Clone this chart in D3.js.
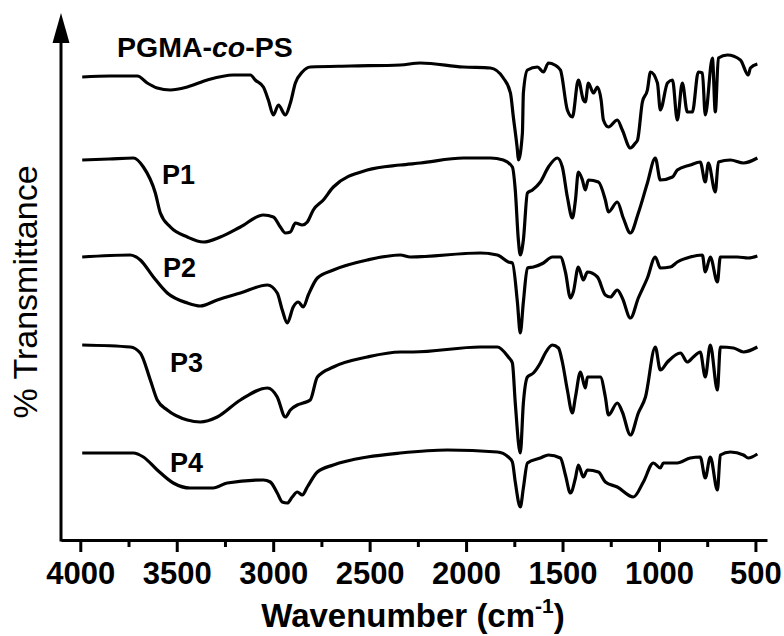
<!DOCTYPE html>
<html>
<head>
<meta charset="utf-8">
<script src="https://cdn.jsdelivr.net/npm/d3@7"></script>
<style>
  body { margin: 0; background: #fff; }
  text { font-family: "Liberation Sans", Arial, sans-serif; }
</style>
</head>
<body>
<div id="plot"></div>
<script>
// Tick values of the wavenumber axis
var majorTicks = [4000, 3500, 3000, 2500, 2000, 1500, 1000, 500];
var minorTicks = [3750, 3250, 2750, 2250, 1750, 1250, 750];

// Spectra, [wavenumber (cm-1), transmittance (a.u., stacked offsets)]
var pgmaCoPS = [[3990,463],[3845,464],[3704,464],[3653,457],[3601,452],[3533,450],[3445,453],[3341,460],[3207,465],[3118,465],[3093,460],[3051,453],[3025,440],[2999,425],[2973,435],[2937,425],[2911,437],[2885,457],[2849,468],[2808,473],[2600,474],[2341,475],[2237,477],[2014,473],[1874,472],[1807,462],[1770,447],[1755,423],[1734,390],[1729,380],[1708,407],[1703,447],[1682,470],[1630,473],[1599,468],[1573,477],[1540,475],[1511,470],[1475,430],[1449,423],[1418,460],[1392,440],[1382,438],[1366,457],[1340,447],[1319,453],[1300,440],[1288,420],[1262,413],[1216,420],[1190,410],[1148,392],[1122,397],[1111,400],[1086,438],[1060,450],[1044,468],[1008,457],[993,430],[956,457],[930,460],[905,420],[879,457],[853,428],[827,428],[796,468],[775,467],[760,425],[723,482],[708,428],[692,482],[645,485],[578,480],[537,465],[526,472],[490,476]];
var p1 = [[3990,380],[3850,381],[3725,382],[3673,373],[3611,347],[3585,327],[3533,313],[3445,303],[3362,298],[3274,303],[3170,313],[3051,325],[2999,323],[2963,313],[2937,307],[2911,308],[2885,317],[2849,315],[2823,318],[2792,330],[2740,340],[2688,353],[2512,370],[2341,375],[2237,377],[2014,382],[1874,382],[1807,380],[1760,373],[1745,350],[1729,300],[1719,285],[1703,300],[1682,347],[1656,350],[1615,358],[1573,373],[1527,382],[1501,373],[1475,343],[1449,322],[1433,340],[1418,368],[1397,360],[1382,350],[1366,360],[1314,358],[1278,340],[1262,328],[1216,338],[1185,322],[1148,307],[1107,327],[1060,357],[1019,382],[993,360],[930,363],[905,370],[838,375],[786,378],[760,358],[744,377],[708,348],[692,378],[630,380],[562,377],[490,382]];
var p2 = [[3990,283],[3741,285],[3689,280],[3621,263],[3549,247],[3445,237],[3378,234],[3290,240],[3170,247],[3030,255],[2979,247],[2953,230],[2927,217],[2896,233],[2870,238],[2844,233],[2818,245],[2771,262],[2688,270],[2512,280],[2341,285],[2289,283],[1926,287],[1838,285],[1781,278],[1760,277],[1734,238],[1719,207],[1703,238],[1682,272],[1651,273],[1599,277],[1553,283],[1511,283],[1485,268],[1459,242],[1444,248],[1418,273],[1392,260],[1371,268],[1319,263],[1278,245],[1252,243],[1216,250],[1190,242],[1148,222],[1107,242],[1060,262],[1019,283],[993,272],[941,273],[905,278],[838,283],[775,285],[760,268],[734,283],[697,258],[682,283],[593,283],[537,282],[490,284]];
var p3 = [[3990,195],[3741,193],[3689,187],[3637,160],[3601,140],[3549,130],[3445,120],[3378,118],[3290,123],[3170,140],[3030,152],[2979,143],[2937,123],[2911,130],[2875,135],[2844,137],[2808,140],[2771,163],[2688,173],[2512,183],[2341,188],[2274,188],[1926,193],[1838,193],[1781,183],[1760,177],[1745,137],[1719,87],[1703,137],[1682,163],[1651,167],[1615,177],[1589,187],[1553,195],[1521,192],[1501,178],[1475,150],[1449,127],[1433,143],[1407,168],[1382,152],[1371,163],[1304,163],[1278,143],[1262,125],[1216,137],[1190,128],[1148,105],[1107,127],[1070,143],[1019,193],[993,170],[956,178],[889,187],[853,178],[822,183],[786,188],[760,163],[734,195],[697,150],[682,193],[614,192],[562,188],[490,193]];
var p4 = [[3990,87],[3725,87],[3673,83],[3601,70],[3518,57],[3430,52],[3311,52],[3238,57],[3051,60],[3015,58],[2979,47],[2953,38],[2927,37],[2901,43],[2875,48],[2849,45],[2823,53],[2771,68],[2688,75],[2512,83],[2341,87],[2097,90],[1838,88],[1781,83],[1760,78],[1745,58],[1719,33],[1703,52],[1682,77],[1615,82],[1573,85],[1511,82],[1485,65],[1459,47],[1433,62],[1418,75],[1392,63],[1371,70],[1314,68],[1278,58],[1216,53],[1133,43],[1081,58],[1029,77],[993,72],[977,77],[905,77],[838,82],[786,83],[760,62],[734,83],[697,50],[682,85],[630,88],[562,85],[537,82],[490,86]];

var seriesNames = ["PGMA-co-PS", "P1", "P2", "P3", "P4"];

var svgWidth = 784;
var svgHeight = 636;

var svg = d3.select("#plot")
  .append("svg")
  .attr("width", svgWidth)
  .attr("height", svgHeight);

// scales: wavenumber runs right to left
var x = d3.scaleLinear().domain([4100, 440]).range([61, 767]);
var y = d3.scaleLinear().domain([0, 527]).range([540, 13]);

var line = d3.line()
  .x(d => x(d[0]))
  .y(d => y(d[1]))
  .curve(d3.curveMonotoneX);

// spectra
var spectra = [pgmaCoPS, p1, p2, p3, p4];
svg.selectAll(".spectrum")
  .data(spectra)
  .enter()
  .append("path")
  .attr("class", "spectrum")
  .attr("d", line)
  .attr("fill", "none")
  .attr("stroke", "#000")
  .attr("stroke-width", 3.2)
  .attr("stroke-linejoin", "round");

// bottom axis, major + minor ticks
var bottomAxis = d3.axisBottom(x)
  .tickValues(majorTicks)
  .tickFormat(d3.format("d"))
  .tickSize(12)
  .tickSizeOuter(0)
  .tickPadding(10);

var xAxisG = svg.append("g")
  .attr("transform", `translate(0, ${y(0)})`)
  .call(bottomAxis);

xAxisG.select(".domain").attr("stroke-width", 3);
xAxisG.selectAll(".tick line").attr("stroke-width", 3);
xAxisG.selectAll(".tick text")
  .attr("font-size", 31)
  .attr("font-weight", "bold")
  .attr("font-family", "Liberation Sans, Arial, sans-serif")
  .attr("fill", "#000");

var minorG = svg.append("g")
  .attr("transform", `translate(0, ${y(0)})`)
  .call(d3.axisBottom(x).tickValues(minorTicks).tickSize(7).tickFormat(""));
minorG.select(".domain").remove();
minorG.selectAll(".tick line").attr("stroke-width", 3);

// vertical axis with arrow head
var yAxisX = x.range()[0];
svg.append("line")
  .attr("x1", yAxisX).attr("x2", yAxisX)
  .attr("y1", y(0) + 1.5).attr("y2", y(500))
  .attr("stroke", "#000")
  .attr("stroke-width", 3);

svg.append("path")
  .attr("d", `M${yAxisX},${y(527)} L${yAxisX - 8.5},${y(497)} L${yAxisX + 8.5},${y(497)} Z`)
  .attr("fill", "#000");

// axis titles
var xTitle = svg.append("text")
  .attr("x", 413)
  .attr("y", 627)
  .attr("text-anchor", "middle")
  .attr("font-size", 33)
  .attr("font-weight", "bold");
xTitle.append("tspan").text("Wavenumber (cm");
xTitle.append("tspan").attr("font-size", 21).attr("dy", -14).text("-1");
xTitle.append("tspan").attr("dy", 14).text(")");

svg.append("text")
  .attr("transform", "translate(37, 292) rotate(-90)")
  .attr("text-anchor", "middle")
  .attr("font-size", 34)
  .text("% Transmittance");

// series labels
var labelPos = [[117, 57], [162, 184], [163, 277], [170, 372], [170, 472]];

var first = svg.append("text")
  .attr("x", labelPos[0][0])
  .attr("y", labelPos[0][1])
  .attr("font-size", 28.5)
  .attr("font-weight", "bold");
first.append("tspan").text("PGMA-");
first.append("tspan").attr("font-style", "italic").text("co");
first.append("tspan").text("-PS");

svg.selectAll(".plabel")
  .data(seriesNames.slice(1))
  .enter()
  .append("text")
  .attr("class", "plabel")
  .attr("x", (d, i) => labelPos[i + 1][0])
  .attr("y", (d, i) => labelPos[i + 1][1])
  .attr("font-size", 27)
  .attr("font-weight", "bold")
  .text(d => d);
</script>
</body>
</html>
